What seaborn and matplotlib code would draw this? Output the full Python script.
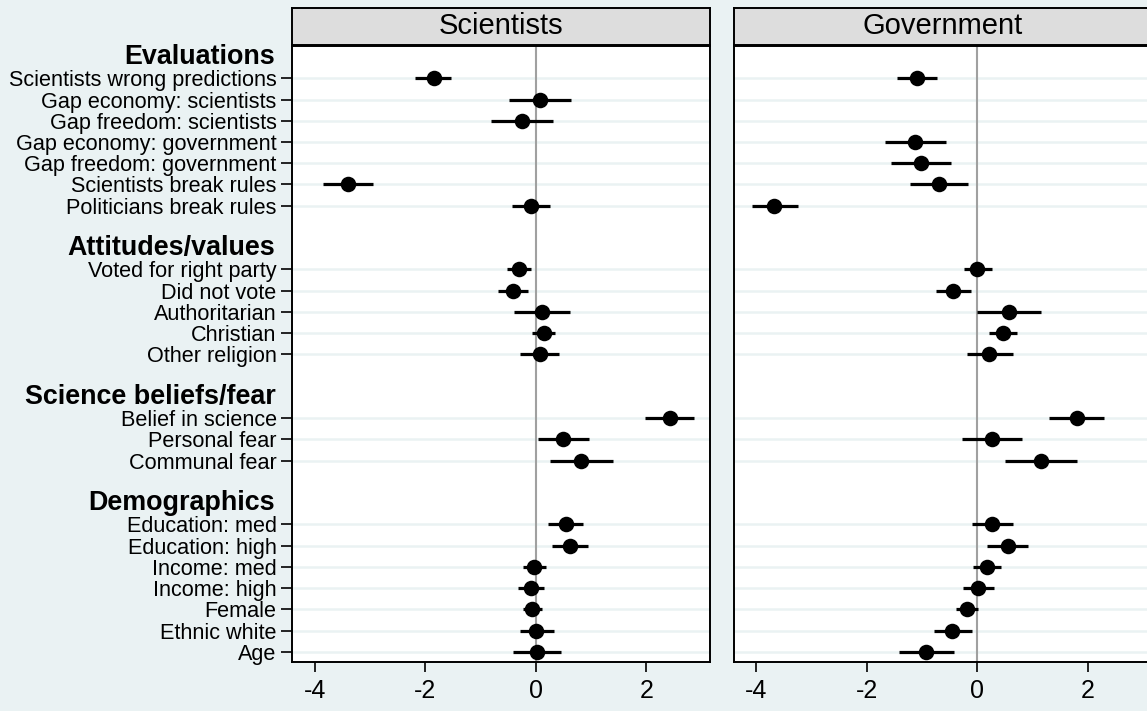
import numpy as np
import pandas as pd
import matplotlib
matplotlib.use("Agg")
import matplotlib.pyplot as plt
import seaborn as sns

# ---------------- data ----------------
groups = ["Evaluations", "Attitudes/values", "Science beliefs/fear", "Demographics"]

labels_eval = ["Scientists wrong predictions", "Gap economy: scientists", "Gap freedom: scientists",
               "Gap economy: government", "Gap freedom: government", "Scientists break rules",
               "Politicians break rules"]
labels_att = ["Voted for right party", "Did not vote", "Authoritarian", "Christian", "Other religion"]
labels_sci = ["Belief in science", "Personal fear", "Communal fear"]
labels_dem = ["Education: med", "Education: high", "Income: med", "Income: high", "Female",
              "Ethnic white", "Age"]

nan = np.nan
# Scientists panel
sci_est = [-1.85, 0.08, -0.25, nan, nan, -3.40, -0.09,
           -0.31, -0.42, 0.11, 0.14, 0.07,
           2.42, 0.50, 0.81,
           0.54, 0.61, -0.03, -0.09, -0.07, 0.01, 0.02]
sci_lo = [-2.18, -0.48, -0.81, nan, nan, -3.85, -0.44,
          -0.53, -0.69, -0.39, -0.07, -0.29,
          1.98, 0.04, 0.25,
          0.22, 0.30, -0.24, -0.33, -0.24, -0.28, -0.42]
sci_hi = [-1.53, 0.64, 0.31, nan, nan, -2.95, 0.26,
          -0.09, -0.14, 0.62, 0.35, 0.42,
          2.86, 0.97, 1.39,
          0.86, 0.94, 0.19, 0.15, 0.11, 0.32, 0.45]
# Government panel
gov_est = [-1.09, nan, nan, -1.12, -1.02, -0.69, -3.67,
           0.00, -0.44, 0.58, 0.47, 0.22,
           1.80, 0.26, 1.15,
           0.27, 0.55, 0.17, 0.02, -0.18, -0.45, -0.92]
gov_lo = [-1.45, nan, nan, -1.67, -1.56, -1.21, -4.07,
          -0.25, -0.75, 0.00, 0.22, -0.19,
          1.30, -0.27, 0.50,
          -0.10, 0.17, -0.08, -0.26, -0.38, -0.79, -1.42]
gov_hi = [-0.73, nan, nan, -0.57, -0.47, -0.17, -3.25,
          0.26, -0.12, 1.15, 0.71, 0.64,
          2.29, 0.80, 1.81,
          0.65, 0.92, 0.42, 0.31, 0.02, -0.10, -0.43]

panels = ["Scientists", "Government"]
xticks = [-4, -2, 0, 2]

# ---------------- layout of rows ----------------
group_items = [labels_eval, labels_att, labels_sci, labels_dem]
header_pos, item_pos, item_lab = [], [], []
p = 0
for g, items in zip(groups, group_items):
    header_pos.append(p)
    p += 1
    for lab in items:
        item_pos.append(p)
        item_lab.append(lab)
        p += 1
    p += 1  # blank row between groups
nrows = item_pos[-1]

df = pd.concat([
    pd.DataFrame({"panel": "Scientists", "pos": item_pos, "label": item_lab,
                  "est": sci_est, "lo": sci_lo, "hi": sci_hi}),
    pd.DataFrame({"panel": "Government", "pos": item_pos, "label": item_lab,
                  "est": gov_est, "lo": gov_lo, "hi": gov_hi}),
])

# ---------------- style ----------------
sns.set_theme(style="white")
plt.rcParams["font.family"] = ["Liberation Sans", "DejaVu Sans"]
BG = "#EAF2F3"

W, H = 1147, 711
fig = plt.figure(figsize=(W / 100, H / 100), dpi=100, facecolor=BG)

ax_w = 418 / W
ax_b = 1 - 662 / H
ax_h = 616 / H
lefts = [292 / W, 733.5 / W]
strip_b = 1 - 45 / H
strip_h = 37.5 / H

for i, name in enumerate(panels):
    ax = fig.add_axes([lefts[i], ax_b, ax_w, ax_h])
    ax.set_facecolor("white")
    d = df[df["panel"] == name].dropna()
    ax.axvline(0, color="#A0A0A0", lw=1.5, zorder=2)
    ax.hlines(d["pos"], d["lo"], d["hi"], color="black", lw=2.3, zorder=3)
    sns.scatterplot(data=d, x="est", y="pos", ax=ax, color="black", s=125,
                    edgecolor="black", linewidth=0, zorder=4, legend=False)
    ax.set_xlim(-4.41, 3.15)
    ax.set_ylim(nrows + 0.48, -0.52)
    ax.set_yticks(item_pos)
    ax.set_xticks(xticks)
    ax.set_xticklabels([str(t) for t in xticks])
    ax.grid(axis="y", color=BG, lw=1.8, zorder=0)
    ax.grid(axis="x", visible=False)
    ax.set_axisbelow(True)
    ax.set_xlabel("")
    ax.set_ylabel("")
    for s in ax.spines.values():
        s.set_visible(True)
        s.set_color("black")
        s.set_linewidth(1.4)
    ax.tick_params(axis="x", direction="out", length=7, width=1.2, color="black",
                   labelsize=18, pad=5, bottom=True, labelcolor="black")
    if i == 0:
        ax.set_yticklabels(item_lab)
        ax.tick_params(axis="y", direction="out", length=8, width=1.2, color="black",
                       labelsize=15.6, pad=3, left=True, labelcolor="black")
        for g, hp in zip(groups, header_pos):
            ax.annotate(g, xy=(0, hp), xycoords=("axes fraction", "data"),
                        xytext=(-12, 0), textcoords="offset points",
                        ha="right", va="center", fontsize=19.4, fontweight="bold",
                        color="black")
    else:
        ax.set_yticklabels([])
        ax.tick_params(axis="y", length=0)

    sax = fig.add_axes([lefts[i], strip_b, ax_w, strip_h])
    sax.set_facecolor("#DDDDDD")
    sax.set_xticks([])
    sax.set_yticks([])
    for s in sax.spines.values():
        s.set_visible(True)
        s.set_color("black")
        s.set_linewidth(1.4)
    sax.text(0.5, 0.5, name, ha="center", va="center", fontsize=21,
             color="black", transform=sax.transAxes)

fig.savefig("out.png", dpi=100, facecolor=BG)
